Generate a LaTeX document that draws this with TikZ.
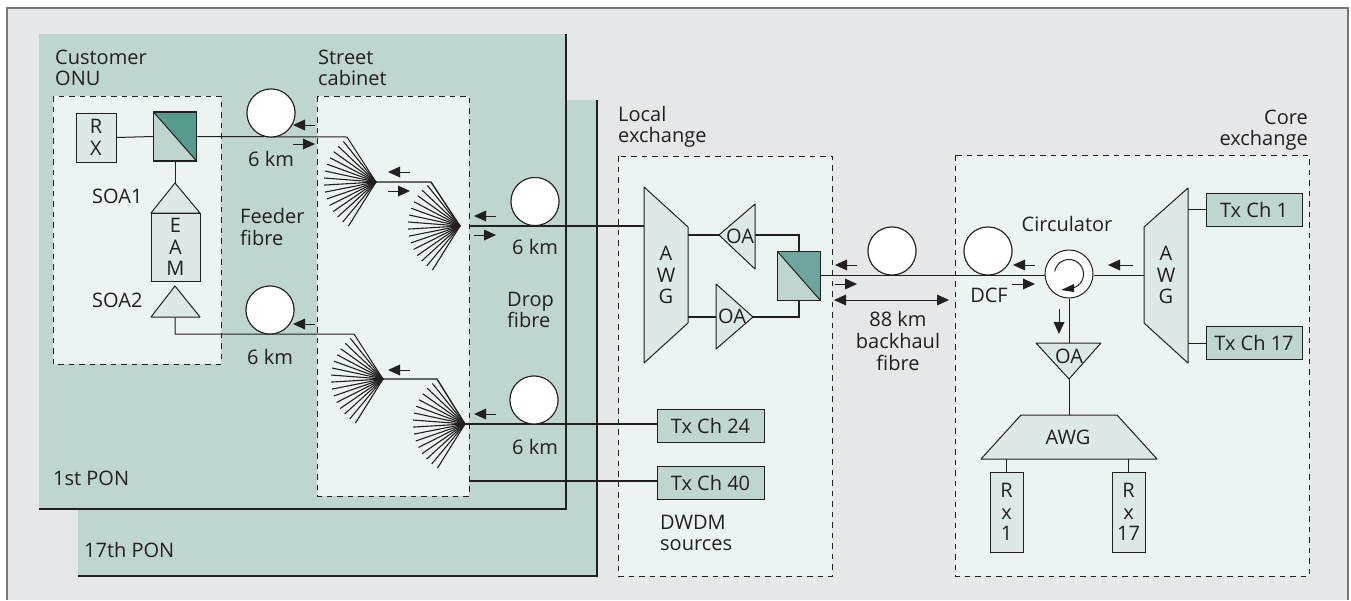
\documentclass[tikz,border=0pt]{standalone}
\usepackage{fontspec}
\setmainfont{Open Sans}
\definecolor{bgc}{HTML}{E6E7E9}
\definecolor{ponc}{HTML}{BFD6D0}
\definecolor{dashc}{HTML}{ECF3F3}
\definecolor{compc}{HTML}{DDE9E7}
\definecolor{darkc}{HTML}{5A9A8C}
\definecolor{medc}{HTML}{6FA59C}
\definecolor{ink}{HTML}{231F20}
\definecolor{framec}{HTML}{777777}
\tikzset{
  x=1pt,y=-1pt,
  every node/.style={font=\fontsize{20}{21.6}\selectfont,text=ink,inner sep=0pt,align=center},
  lab/.style={align=left,anchor=west},
  zone/.style={draw=ink,fill=dashc,line width=1pt,dash pattern=on 5.5pt off 5pt},
  pon/.style={fill=ponc},
  ponedge/.style={draw=ink,line width=2.6pt},
  thin line/.style={draw=ink,line width=1pt},
  mid line/.style={draw=ink,line width=1.4pt},
  thick line/.style={draw=ink,line width=2.1pt},
  comp/.style={draw=ink,fill=compc,line width=1pt,line join=round},
  box/.style={draw=ink,fill=compc,rectangle,line width=1pt},
  tx/.style={draw=ink,fill=ponc,rectangle,line width=1pt,minimum width=#1,minimum height=33pt},
  tx/.default=96pt,
  coil/.style={draw=ink,fill=white,circle,minimum size=48pt,line width=1pt},
  splitbox/.style={rectangle,minimum width=43pt,minimum height=49pt,line width=1pt,draw=ink,fill=ponc,
    path picture={
      \fill[#1] (path picture bounding box.north west) -- (path picture bounding box.north east)
        -- (path picture bounding box.south east) -- cycle;
      \draw[ink,line width=1pt] (path picture bounding box.north west) -- (path picture bounding box.south east);}},
  flow/.style={draw=ink,line width=1pt},
  fanline/.style={draw=ink,line width=1.1pt},
}
\newcommand{\fanout}[1]{\foreach \i in {0,...,14}{\draw[fanline] (#1) -- ++({122+7.8*\i}:52);}}
\newcommand{\flowR}[3]{%
  \draw[flow] (#1,#3) -- (#2-10,#3);\fill[ink] (#2,#3) -- (#2-12,#3-5.5) -- (#2-12,#3+5.5) -- cycle;}
\newcommand{\flowL}[3]{%
  \draw[flow] (#2,#3) -- (#1+10,#3);\fill[ink] (#1,#3) -- (#1+12,#3-5.5) -- (#1+12,#3+5.5) -- cycle;}
\begin{document}
\begin{tikzpicture}
\useasboundingbox (0,0) rectangle (1351,600);
% background and frame
\fill[bgc] (7,8) rectangle (1348,600);
\draw[framec,line width=2pt] (7,600) -- (7,8) -- (1348,8) -- (1348,600);
% PON planes
\fill[pon] (78,100) rectangle (597,576);
\draw[ponedge] (78,576) -- (597,576) -- (597,100);
\fill[pon] (39,34) rectangle (566,509);
\draw[ponedge] (39,509) -- (566,509) -- (566,34);
% dashed zones
\draw[zone] (53,96) rectangle (221,364);
\draw[zone] (317,96) rectangle (469,496);
\draw[zone] (618,156) rectangle (832,576);
\draw[zone] (955,155) rectangle (1309,576);
% coordinates
\coordinate (t1) at (376,182);
\coordinate (k1) at (347,137);
\coordinate (k2) at (431,182);
\coordinate (t2) at (460,226);
\coordinate (t3) at (383,379);
\coordinate (k3) at (354,334);
\coordinate (k4) at (437,379);
\coordinate (t4) at (465,424);
\coordinate (soaB) at (175,317);
\coordinate (soaC) at (175,334);
\coordinate (f3) at (469,481);
\coordinate (awgL) at (644,226);
\coordinate (awgU) at (688,235);
\coordinate (awgD) at (688,317);
\coordinate (oa1L) at (719,235);
\coordinate (oa1R) at (755,235);
\coordinate (oa2L) at (716,317);
\coordinate (oa2R) at (753,317);
\coordinate (c1) at (799,235);
\coordinate (c2) at (799,317);
\coordinate (awgR) at (1144,275);
\coordinate (oa3T) at (1069,343);
\coordinate (oa3B) at (1069,379);
\coordinate (awg3T) at (1069,415);
% components
\node[box,minimum width=40pt,minimum height=49pt] (rx) at (96,137.5) {R\\X};
\node[splitbox=darkc,line width=1.5pt] (s1) at (175,136.5) {};
\node[splitbox=medc] (s2) at (798.5,275.5) {};
\node[coil] (c11) at (271,113) {};
\node[coil] (c12) at (270,310) {};
\node[coil] (c21) at (535,201.5) {};
\node[coil] (c22) at (534,400) {};
\node[coil] (c31) at (892,251) {};
\node[coil] (c32) at (988,251) {};
\node[coil] (circ) at (1069,274) {};
\node[tx] (tx1) at (1254,209.5) {Tx Ch 1};
\node[tx] (tx17) at (1254,343) {Tx Ch 17};
\node[tx=107pt] (tx24) at (710.5,426) {Tx Ch 24};
\node[tx=107pt] (tx40) at (710.5,483) {Tx Ch 40};
% connectors
\draw[thin line] (rx.east) -- (s1.west);
\draw[thin line] (s1.south) -- (175,183);
\draw[thin line,line join=round] (s1.east) -- (k1) -- (t1);
\draw[mid line,line join=round] (t1) -- (k2) -- (t2);
\draw[thick line] (469,226) -- (awgL);
\draw[thin line,line join=round] (soaB) -- (soaC) -- (k3) -- (t3);
\draw[mid line,line join=round] (t3) -- (k4) -- (t4);
\draw[thick line] (t4) -- (tx24.west |- t4);
\draw[thick line] (f3) -- (tx40.west |- f3);
\draw[thick line] (awgU) -- (oa1L);
\draw[thick line] (oa1R) -- (c1) -- (s2.north -| c1);
\draw[thick line] (awgD) -- (oa2L);
\draw[thick line] (oa2R) -- (c2) -- (s2.south -| c2);
\draw[thin line] (820,275) -- (circ.west |- 0,275);
\draw[thin line] (circ.east |- 0,275) -- (awgR);
\draw[thin line] (circ.south) -- (oa3T);
\draw[thin line] (oa3B) -- (awg3T);
\draw[thin line] (1188,209.5) -- (tx1.west);
\draw[thin line] (1188,343) -- (tx17.west);
% coils redrawn over the lines
\node[coil] at (c11) {};
\node[coil] at (c12) {};
\node[coil] at (c21) {};
\node[coil] at (c22) {};
\node[coil] at (c31) {};
\node[coil] at (c32) {};
% fans
\fanout{t1}
\fanout{t2}
\fanout{t3}
\fanout{t4}
% amplifiers and AWGs
\draw[comp] (175,183) -- (200,213) -- (151,213) -- cycle;
\node[box,minimum width=49pt,minimum height=68pt] (eam) at (175.5,247) {E\\A\\M};
\draw[comp] (175,286) -- (200,317) -- (151,317) -- cycle;
\draw[comp] (644,187) -- (688,227) -- (688,323) -- (644,363) -- cycle;
\draw[comp] (719,235) -- (755,204) -- (755,269) -- cycle;
\draw[comp] (716,284) -- (753,317) -- (716,349) -- cycle;
\draw[comp] (1144,227) -- (1188,188) -- (1188,363) -- (1144,323) -- cycle;
\draw[comp] (1036,343) -- (1101,343) -- (1069,379) -- cycle;
\draw[comp] (1021,415) -- (1117,415) -- (1157,459) -- (981,459) -- cycle;
% receivers
\node[box,minimum width=33pt,minimum height=80pt] (r1) at (1006.5,512) {R\\x\\1};
\node[box,minimum width=33pt,minimum height=80pt] (r17) at (1128.5,512) {R\\x\\17};
\draw[thin line] (r1.north) -- (r1.north |- 0,459);
\draw[thin line] (r17.north) -- (r17.north |- 0,459);
% circulator inner arrow
\draw[ink,line width=1pt] plot[domain=190:445,samples=40,smooth] ({1069+14.5*cos(\x)},{274+14.5*sin(\x)});
\fill[ink] (1061,290) -- (1074,284) -- (1074,292) -- cycle;
% flow arrows
\flowL{293}{315}{125}
\flowR{293}{315}{144}
\flowL{388}{410}{172}
\flowR{388}{410}{191}
\flowL{474}{496}{216}
\flowR{474}{496}{235}
\flowL{293}{315}{324}
\flowL{388}{410}{370}
\flowL{474}{496}{414}
\flowL{835}{857}{265}
\flowR{835}{857}{284}
\flowL{1013}{1035}{265}
\flowR{1012}{1035}{284}
\flowL{1108}{1133}{265}
\draw[flow] (1059,309) -- (1059,324);
\fill[ink] (1059,334) -- (1053.5,322) -- (1064.5,322) -- cycle;
% 88 km span arrow
\draw[flow] (844,300) -- (939,300);
\fill[ink] (834,300) -- (846,294.5) -- (846,305.5) -- cycle;
\fill[ink] (949,300) -- (937,294.5) -- (937,305.5) -- cycle;
% labels
\node[lab] (l1) at (55,68) {Customer\\ONU};
\node[lab] (l2) at (318,68) {Street\\cabinet};
\node[lab] (l3) at (618,127) {Local\\exchange};
\node[align=right,anchor=east] (l4) at (1308,130) {Core\\exchange};
\node (km1) at (271,159) {6 km};
\node (km2) at (270,357) {6 km};
\node (km3) at (535,247) {6 km};
\node (km4) at (535,447) {6 km};
\node[lab] (ff) at (240,227) {Feeder\\fibre};
\node[lab] (df) at (507,310) {Drop\\fibre};
\node[lab] (soa1) at (92,196) {SOA1};
\node[lab] (soa2) at (92,300) {SOA2};
\node[lab] (p1) at (53,478) {1st PON};
\node[lab] (p17) at (84,550) {17th PON};
\node (awga) at (666,275) {A\\W\\G};
\node (oaa) at (740,236) {OA};
\node (oab) at (732,316) {OA};
\node (circl) at (1067,224) {Circulator};
\node (dcf) at (989,295) {DCF};
\node (awgb) at (1166,275) {A\\W\\G};
\node (oac) at (1069,356) {OA};
\node (awgc) at (1068,437) {AWG};
\node (bh) at (898,341) {88 km\\backhaul\\fibre};
\node[lab] (dw) at (660,533) {DWDM\\sources};
\end{tikzpicture}
\end{document}
